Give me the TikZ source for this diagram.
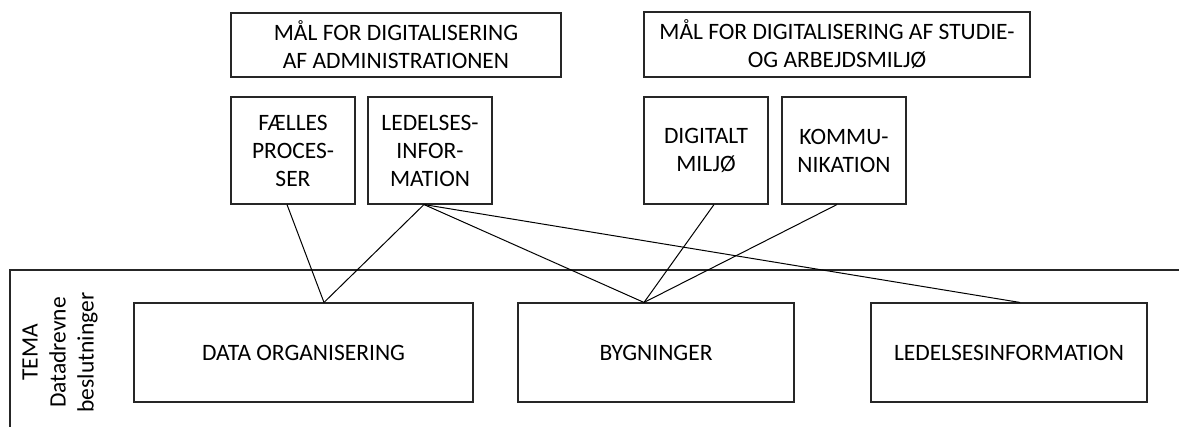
\documentclass[tikz,border=0pt]{standalone}
\usepackage{fontspec}
\setmainfont{Carlito}
\begin{document}
\begin{tikzpicture}[x=1pt,y=-1pt,
  box/.style={draw=black!85,line width=1.1pt,rectangle,inner sep=0pt,align=center,
    font=\fontsize{23.5}{28}\selectfont},
  link/.style={draw=black,line width=1pt}]
\useasboundingbox (0,0) rectangle (1179,427);
% outer theme frame (open to the right and bottom)
\draw[line width=1.1pt,draw=black!85] (10,427) -- (10,270) -- (1179,270);
% goal boxes
\node[box,minimum width=330pt,minimum height=64pt] (g1) at (396,45) {MÅL FOR DIGITALISERING\\AF ADMINISTRATIONEN};
\node[box,minimum width=386pt,minimum height=65pt] (g2) at (837,44.5) {MÅL FOR DIGITALISERING AF STUDIE-\\OG ARBEJDSMILJØ};
% sub-goal boxes
\node[box,minimum width=124pt,minimum height=107pt] (fp) at (293,150.5) {FÆLLES\\PROCES-\\SER};
\node[box,minimum width=124pt,minimum height=107pt] (li) at (430,150.5) {LEDELSES-\\INFOR-\\MATION};
\node[box,minimum width=124pt,minimum height=107pt] (dm) at (706,150.5) {DIGITALT\\MILJØ};
\node[box,minimum width=124pt,minimum height=107pt] (ko) at (844,150.5) {KOMMU-\\NIKATION};
% theme boxes
\node[box,minimum width=339pt,minimum height=99pt] (dat) at (303.5,352.5) {DATA ORGANISERING};
\node[box,minimum width=276pt,minimum height=99pt] (byg) at (656,352.5) {BYGNINGER};
\node[box,minimum width=276pt,minimum height=99pt] (led) at (1009,352.5) {LEDELSESINFORMATION};
% theme label
\node[rotate=90,align=center,inner sep=0pt,font=\fontsize{23.5}{28}\selectfont] (tema) at (60,352.5) {TEMA\\Datadrevne\\beslutninger};
% connectors
\draw[link] ([xshift=-6pt]fp.south) -- ([xshift=20.5pt]dat.north);
\draw[link] ([xshift=-6pt]li.south) -- ([xshift=20.5pt]dat.north);
\draw[link] ([xshift=-6pt]li.south) -- ([xshift=-12pt]byg.north);
\draw[link] ([xshift=-6pt]li.south) -- ([xshift=11pt]led.north);
\draw[link] ([xshift=8pt]dm.south) -- ([xshift=-12pt]byg.north);
\draw[link] ([xshift=-7pt]ko.south) -- ([xshift=-12pt]byg.north);
\end{tikzpicture}
\end{document}
